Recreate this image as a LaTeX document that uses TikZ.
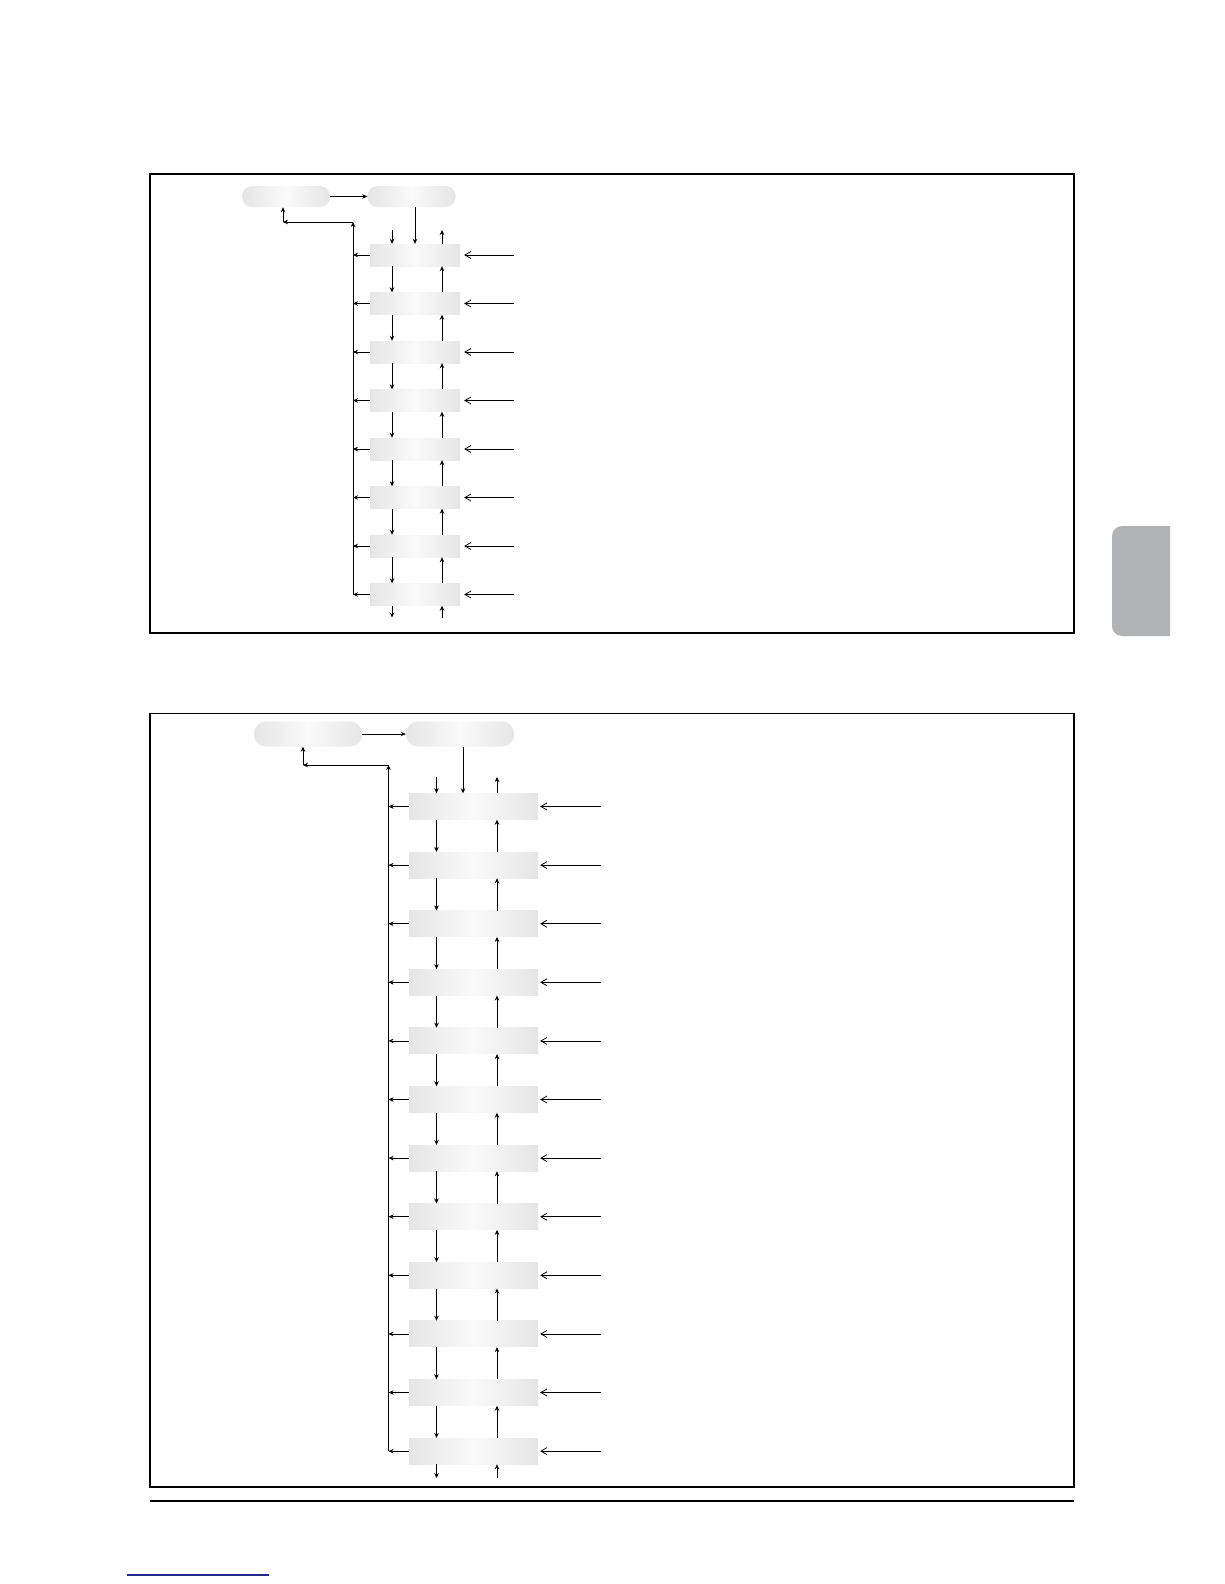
\documentclass[tikz,border=0pt]{standalone}
\usetikzlibrary{arrows.meta}
\definecolor{tabgray}{HTML}{B2B3B5}
\definecolor{linkblue}{HTML}{1F2A8A}
\begin{document}
\begin{tikzpicture}[x=1pt,y=-1pt,
  arr/.style={line width=0.8pt,-{Stealth[length=5pt,width=4.5pt]}},
  inarr/.style={line width=0.8pt,-{Straight Barb[length=6pt,width=7pt]}},
  frame/.style={line width=1.3pt},
  shade/.style={draw=none,inner sep=0pt,left color=black!10,right color=black!10,middle color=black!2},
  boxa/.style={shade,minimum width=90pt,minimum height=22pt},
  boxb/.style={shade,minimum width=129pt,minimum height=26pt},
  pilla/.style={shade,rounded corners=10pt,minimum width=88pt,minimum height=21pt},
  pillb/.style={shade,rounded corners=12pt,minimum width=108pt,minimum height=25pt}]
\useasboundingbox (0,0) rectangle (1224,1584);
\fill[white] (0,0) rectangle (1224,1584);

% ---------- top panel ----------
\draw[frame] (150,174) rectangle (1074,633);
\node[pilla] (pa) at (286,196.5) {};
\node[pilla] (pb) at (411.5,196.5) {};
\draw[arr] (pa.east) -- (pb.west);
\coordinate (dn) at (392,0);
\coordinate (up) at (442,0);
\coordinate (bus) at (353,0);
\coordinate (rin) at (514,0);
\coordinate (tin) at (415,0);
\coordinate (ret) at (283,0);
\coordinate (ttop) at (0,230);
\coordinate (tbot) at (0,617.5);
\coordinate (tret) at (0,222);
\foreach \k in {0,...,7}{\node[boxa] (t\k) at (415,255+48.5*\k) {};}
\draw[arr] (pb.south -| tin) -- (t0.north -| tin);
\draw[arr] (ttop -| dn) -- (t0.north -| dn);
\draw[arr] (t0.north -| up) -- (ttop -| up);
\foreach \k in {0,...,6}{\pgfmathtruncatemacro\n{\k+1}
  \draw[arr] (t\k.south -| dn) -- (t\n.north -| dn);
  \draw[arr] (t\n.north -| up) -- (t\k.south -| up);}
\draw[arr] (t7.south -| dn) -- (tbot -| dn);
\draw[arr] (tbot -| up) -- (t7.south -| up);
\draw[arr] (bus |- t7) -- (bus |- tret);
\draw[arr] (bus |- tret) -- (ret |- tret);
\draw[arr] (ret |- tret) -- (pa.south -| ret);
\foreach \k in {0,...,7}{
  \draw[arr] (t\k.west) -- (bus |- t\k);
  \draw[inarr,shorten >=4pt] (rin |- t\k) -- (t\k.east);}

% ---------- bottom panel ----------
\draw[frame] (150,713.7) rectangle (1074,1487);
\node[pillb] (pc) at (308,734) {};
\node[pillb] (pd) at (460,734) {};
\draw[arr] (pc.east) -- (pd.west);
\coordinate (dn2) at (436.5,0);
\coordinate (up2) at (497,0);
\coordinate (bus2) at (388.5,0);
\coordinate (rin2) at (601,0);
\coordinate (tin2) at (463,0);
\coordinate (ret2) at (303,0);
\coordinate (btop) at (0,777);
\coordinate (bbot) at (0,1478);
\coordinate (bret) at (0,765);
\foreach \k in {0,...,11}{\node[boxb] (b\k) at (473.5,806.5+58.6*\k) {};}
\draw[arr] (pd.south -| tin2) -- (b0.north -| tin2);
\draw[arr] (btop -| dn2) -- (b0.north -| dn2);
\draw[arr] (b0.north -| up2) -- (btop -| up2);
\foreach \k in {0,...,10}{\pgfmathtruncatemacro\n{\k+1}
  \draw[arr] (b\k.south -| dn2) -- (b\n.north -| dn2);
  \draw[arr] (b\n.north -| up2) -- (b\k.south -| up2);}
\draw[arr] (b11.south -| dn2) -- (bbot -| dn2);
\draw[arr] (bbot -| up2) -- (b11.south -| up2);
\draw[arr] (bus2 |- b11) -- (bus2 |- bret);
\draw[arr] (bus2 |- bret) -- (ret2 |- bret);
\draw[arr] (ret2 |- bret) -- (pc.south -| ret2);
\foreach \k in {0,...,11}{
  \draw[arr] (b\k.west) -- (bus2 |- b\k);
  \draw[inarr,shorten >=2pt] (rin2 |- b\k) -- (b\k.east);}

% ---------- page furniture ----------
\draw[line width=1.2pt] (150,1501) -- (1074,1501);
\draw[linkblue,line width=1.2pt] (127,1575) -- (269,1575);
\begin{scope}
  \clip (1100,500) rectangle (1170,660);
  \fill[tabgray,rounded corners=10pt] (1112,526) rectangle (1195,636);
\end{scope}
\end{tikzpicture}
\end{document}
